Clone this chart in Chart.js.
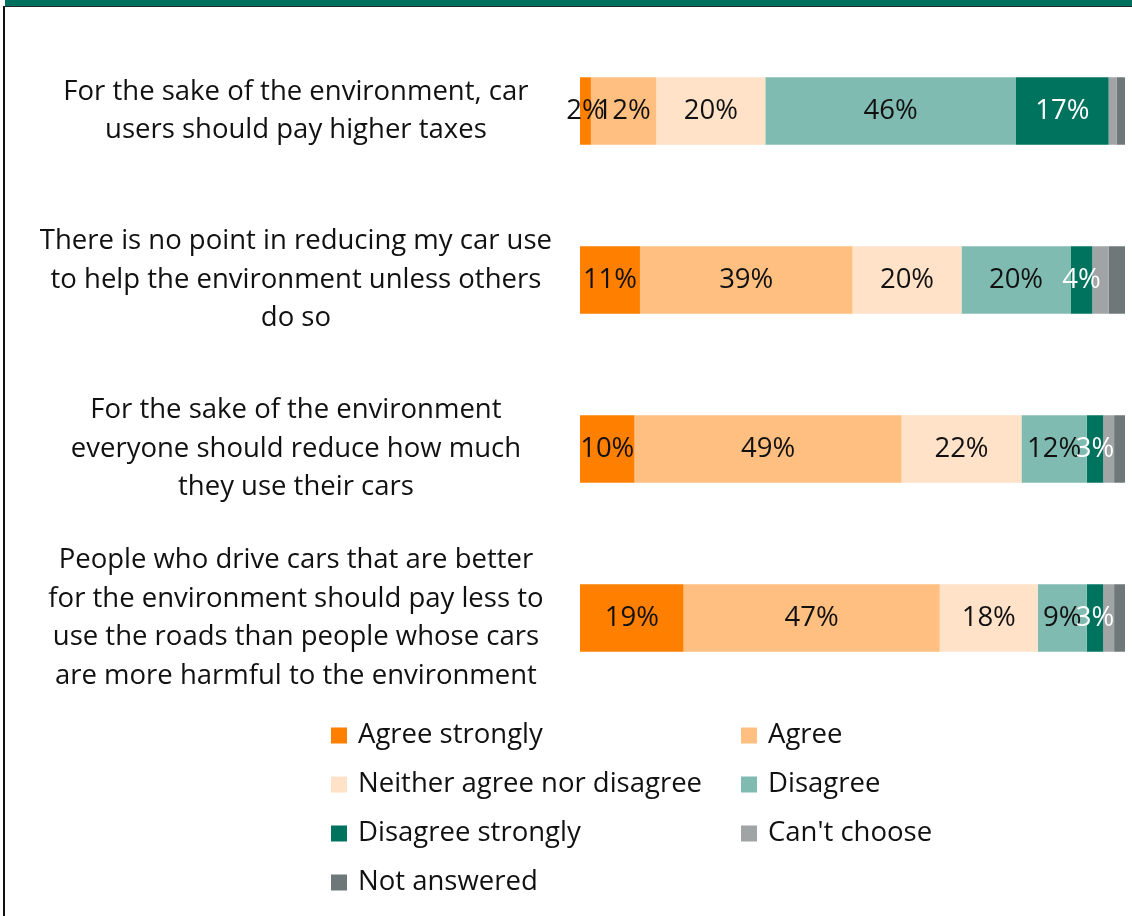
<!DOCTYPE html>
<html>
<head>
<meta charset="utf-8">
<title>Attitudes to car use and the environment</title>
<script src="https://cdn.jsdelivr.net/npm/chart.js@4/dist/chart.umd.min.js"></script>
<style>
  html, body { margin: 0; padding: 0; background: #fff; }
  #frame { position: relative; width: 1132px; height: 916px; overflow: hidden; }
  #band { position: absolute; left: 5px; top: 0; right: 0; height: 6px; background: #00705f; border-bottom: 1px solid #1c2c28; }
  #edge { position: absolute; left: 3px; top: 6px; bottom: 0; width: 2px; background: #111; }
  #wrap { position: absolute; left: 0; top: 0; width: 1132px; height: 916px; }
</style>
</head>
<body>
<div id="frame">
  <div id="band"></div>
  <div id="edge"></div>
  <div id="wrap"><canvas id="myChart"></canvas></div>
</div>
<script>
// Statements (wrapped the way they are shown on the axis)
const statements = [
    ['For the sake of the environment, car', 'users should pay higher taxes'],
    ['There is no point in reducing my car use', 'to help the environment unless others', 'do so'],
    ['For the sake of the environment', 'everyone should reduce how much', 'they use their cars'],
    ['People who drive cars that are better', 'for the environment should pay less to', 'use the roads than people whose cars', 'are more harmful to the environment']
];

// Responses, % of respondents, one value per statement
const agreeStrongly = [2, 11, 10, 19];
const agree = [12, 39, 49, 47];
const neither = [20, 20, 22, 18];
const disagree = [46, 20, 12, 9];
const disagreeStrongly = [17, 4, 3, 3];
const cantChoose = [1.5, 3, 2, 2];
const notAnswered = [1.5, 3, 2, 2];

const seriesNames = ['Agree strongly', 'Agree', 'Neither agree nor disagree', 'Disagree', 'Disagree strongly', "Can't choose", 'Not answered'];
const seriesColors = ['#ff7f00', '#ffbf80', '#ffe2c8', '#80bbb1', '#00735f', '#a0a4a4', '#6f7878'];
const seriesValues = [agreeStrongly, agree, neither, disagree, disagreeStrongly, cantChoose, notAnswered];
// only the first five series get a % label, the dark green one in white
const labelColors = ['#111', '#111', '#111', '#111', '#fff', null, null];

const FONT = '"Open Sans", "Noto Sans", sans-serif';
const FONT_SIZE = 27.5;

// % labels in the middle of each segment
const valueLabels = {
    id: 'valueLabels',
    afterDatasetsDraw(chart) {
        const ctx = chart.ctx;
        ctx.save();
        ctx.font = FONT_SIZE + 'px ' + FONT;
        ctx.textAlign = 'center';
        ctx.textBaseline = 'middle';
        chart.data.datasets.forEach((ds, i) => {
            if (!ds.valueColor) return;
            ctx.fillStyle = ds.valueColor;
            chart.getDatasetMeta(i).data.forEach((bar, j) => {
                const p = bar.getCenterPoint();
                ctx.fillText(ds.data[j] + '%', p.x, p.y);
            });
        });
        ctx.restore();
    }
};

// two-column legend under the bars
const columnLegend = {
    id: 'columnLegend',
    afterDraw(chart) {
        const ctx = chart.ctx;
        const top = chart.chartArea.bottom + 33;
        ctx.save();
        ctx.font = FONT_SIZE + 'px ' + FONT;
        ctx.textBaseline = 'middle';
        ctx.textAlign = 'left';
        chart.data.datasets.forEach((ds, i) => {
            const x = 331 + (i % 2) * 410;
            const y = top + Math.floor(i / 2) * 49;
            ctx.fillStyle = ds.backgroundColor;
            ctx.fillRect(x, y - 8, 16, 16);
            ctx.fillStyle = '#111';
            ctx.fillText(ds.label, x + 27, y);
        });
        ctx.restore();
    }
};

const data = {
    labels: statements,
    datasets: seriesNames.map((name, i) => ({
        label: name,
        data: seriesValues[i],
        backgroundColor: seriesColors[i],
        valueColor: labelColors[i],
        borderWidth: 0,
        barPercentage: 0.4,
        categoryPercentage: 1
    }))
};

const config = {
    type: 'bar',
    data: data,
    options: {
        indexAxis: 'y',
        responsive: true,
        maintainAspectRatio: false,
        animation: false,
        layout: {
            padding: { top: 26.5, right: 7, bottom: 213.5, left: 0 }
        },
        scales: {
            x: {
                stacked: true,
                min: 0,
                max: 100,
                display: false
            },
            y: {
                stacked: true,
                grid: { display: false },
                border: { display: false },
                ticks: {
                    crossAlign: 'center',
                    padding: 20,
                    color: '#111',
                    font: { family: FONT, size: FONT_SIZE, lineHeight: '38.5px' }
                },
                afterFit(scale) {
                    scale.width = 580;
                    scale.paddingTop = 0;
                    scale.paddingBottom = 0;
                }
            }
        },
        plugins: {
            legend: { display: false },
            tooltip: { enabled: false }
        }
    },
    plugins: [valueLabels, columnLegend]
};

const chart = new Chart(document.getElementById('myChart'), config);
</script>
</body>
</html>
